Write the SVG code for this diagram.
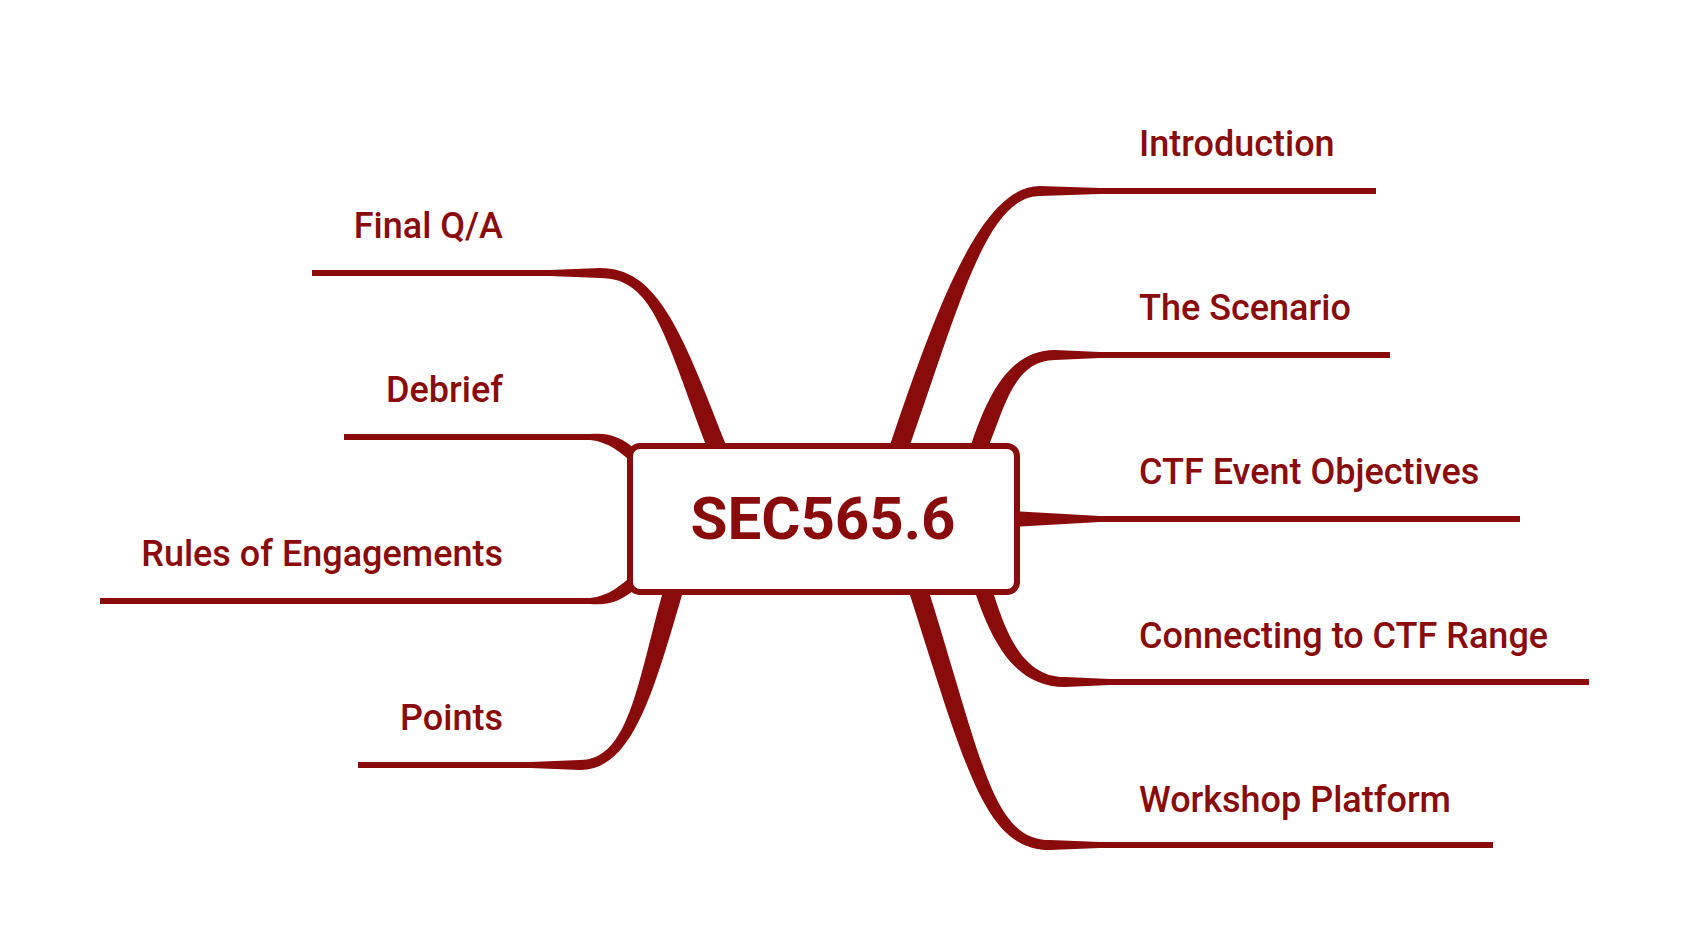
<svg xmlns="http://www.w3.org/2000/svg" width="1690" height="950" viewBox="0 0 1690 950">
<style>
.br{fill:#8a0b0b;stroke:none}
.lbl{font-family:Roboto,"Liberation Sans",sans-serif;font-weight:500;font-size:36px;fill:#8a0b0b}
.ctr{font-family:Roboto,"Liberation Sans",sans-serif;font-weight:700;font-size:60px;fill:#8a0b0b}
.box{fill:#ffffff;stroke:#8a0b0b;stroke-width:6}
</style>
<rect width="1690" height="950" fill="#ffffff"/>
<g id="connectors">
<path class="br" d="M 890,445 C 940,297 983,186 1040,186 L 1100,188 L 1376,188 L 1376,194 L 1100,194 L 1040,196 C 987,196 960,303 910,445 Z"/>
<path class="br" d="M 971,445 C 986,401 1007,350 1055,350 L 1100,352 L 1390,352 L 1390,358 L 1100,358 L 1055,360 C 1014,360 1004,409 989,445 Z"/>
<path class="br" d="M 1010,511 L 1100,516 L 1520,516 L 1520,522 L 1100,522 L 1010,527 Z"/>
<path class="br" d="M 976,595 C 993,644 1016,687 1065,687 L 1110,685 L 1589,685 L 1589,679 L 1110,679 L 1065,677 C 1024,677 1007,636 994,595 Z"/>
<path class="br" d="M 910,595 C 967,774 986,850 1050,850 L 1100,848 L 1493,848 L 1493,842 L 1100,842 L 1050,840 C 994,840 983,766 930,595 Z"/>
<path class="br" d="M 726,445 C 680,326 656,268 600,268 L 550,270 L 312,270 L 312,276 L 550,276 L 600,278 C 653,278 664,334 706,445 Z"/>
<path class="br" d="M 344,434 L 590,434 C 611,432 623,439 634,448 L 634,464 C 620,452 609,442 590,440 L 344,440 Z"/>
<path class="br" d="M 100,604 L 590,604 C 611,606 623,599 634,590 L 634,574 C 620,586 609,596 590,598 L 100,598 Z"/>
<path class="br" d="M 662,595 C 637,686 628,760 580,760 L 530,762 L 358,762 L 358,768 L 530,768 L 580,770 C 632,770 653,694 682,595 Z"/>
</g>
<g id="center">
<rect class="box" x="630" y="446" width="387" height="146" rx="10"/>
<text class="ctr" x="823" y="539" text-anchor="middle">SEC565.6</text>
</g>
<g id="introduction"><text class="lbl" x="1139" y="156">Introduction</text></g>
<g id="the-scenario"><text class="lbl" x="1139" y="320">The Scenario</text></g>
<g id="ctf-event-objectives"><text class="lbl" x="1139" y="484">CTF Event Objectives</text></g>
<g id="connecting"><text class="lbl" x="1139" y="648">Connecting to CTF Range</text></g>
<g id="workshop"><text class="lbl" x="1139" y="812">Workshop Platform</text></g>
<g id="final-qa"><text class="lbl" x="503" y="238" text-anchor="end">Final Q/A</text></g>
<g id="debrief"><text class="lbl" x="503" y="402" text-anchor="end">Debrief</text></g>
<g id="rules"><text class="lbl" x="503" y="566" text-anchor="end">Rules of Engagements</text></g>
<g id="points"><text class="lbl" x="503" y="730" text-anchor="end">Points</text></g>
</svg>
